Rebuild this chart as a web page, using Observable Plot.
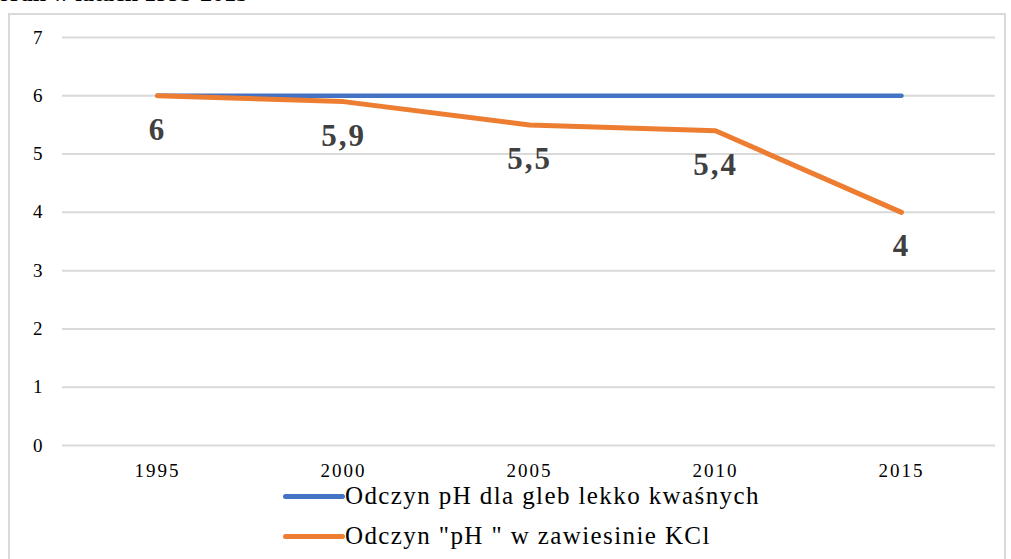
<!DOCTYPE html>
<html>
<head>
<meta charset="utf-8">
<script src="https://cdn.jsdelivr.net/npm/d3@7"></script>
<script src="https://cdn.jsdelivr.net/npm/@observablehq/plot@0.6"></script>
<style>
  html, body { margin: 0; padding: 0; background: #fff; }
  #wrap { position: relative; width: 1011px; height: 559px; overflow: hidden; font-family: "Liberation Serif", "Times New Roman", serif; }
  #title { position: absolute; left: -2px; top: -20px; font-weight: bold; font-size: 24px; color: #000; white-space: nowrap; }
  #frame { position: absolute; left: 8px; top: 13px; width: 998px; height: 600px; border: 2px solid #d9d9d9; box-sizing: border-box; }
  #chart { position: absolute; left: 0; top: 0; }
  #chart svg text { letter-spacing: 2px; }
  .leg { position: absolute; left: 283px; display: flex; align-items: center; font-size: 25px; letter-spacing: 1.4px; color: #000; white-space: nowrap; }
  .leg span.sw { display: inline-block; width: 62px; height: 5px; border-radius: 3px; margin-right: 0; }
</style>
</head>
<body>
<div id="wrap">
  <div id="title">orań w latach 1995-2015</div>
  <div id="frame"></div>
  <div id="chart"></div>
  <div class="leg" id="leg1" style="top:482px"><span class="sw" style="background:#4472C4"></span><span id="t1"></span></div>
  <div class="leg" id="leg2" style="top:522px"><span class="sw" style="background:#ED7D31"></span><span id="t2"></span></div>
</div>
<script>
const years = ["1995", "2000", "2005", "2010", "2015"];
const seriesNames = ["Odczyn pH dla gleb lekko kwaśnych", "Odczyn \"pH \" w zawiesinie KCl"];
const phLekkoKwasne = [6, 6, 6, 6, 6];
const phKCl = [6, 5.9, 5.5, 5.4, 4];
const yTicks = [0, 1, 2, 3, 4, 5, 6, 7];
const colors = ["#4472C4", "#ED7D31"];

const blue = years.map((y, i) => ({year: y, value: phLekkoKwasne[i]}));
const orange = years.map((y, i) => ({year: y, value: phKCl[i]}));

document.getElementById("t1").textContent = seriesNames[0];
document.getElementById("t2").textContent = seriesNames[1];

const fmt = v => String(v).replace(".", ",");

const chart = Plot.plot({
  width: 1011,
  height: 480,
  marginLeft: 62,
  marginRight: 16,
  marginTop: 37,
  marginBottom: 35,
  style: {background: "transparent", fontFamily: "Liberation Serif, Times New Roman, serif", fontSize: "19px", color: "#000"},
  x: {type: "point", domain: years, padding: 0.5, label: null},
  y: {domain: [0, 7], ticks: yTicks, label: null},
  marks: [
    Plot.gridY(yTicks, {stroke: "#d9d9d9", strokeOpacity: 1, strokeWidth: 2}),
    Plot.axisX({tickSize: 0, tickPadding: 18, fontSize: 19, fill: "#000"}),
    Plot.axisY(yTicks, {tickSize: 0, tickPadding: 18, fontSize: 19, fill: "#000", tickFormat: d => String(d)}),
    Plot.line(blue, {x: "year", y: "value", stroke: colors[0], strokeWidth: 4.5}),
    Plot.line(orange, {x: "year", y: "value", stroke: colors[1], strokeWidth: 5, strokeLinejoin: "round", strokeLinecap: "round"}),
    Plot.text(orange, {x: "year", y: "value", text: d => fmt(d.value), dy: 34, fontSize: 31, fontWeight: "bold", fill: "#404040"})
  ]
});
document.getElementById("chart").appendChild(chart);
</script>
</body>
</html>
